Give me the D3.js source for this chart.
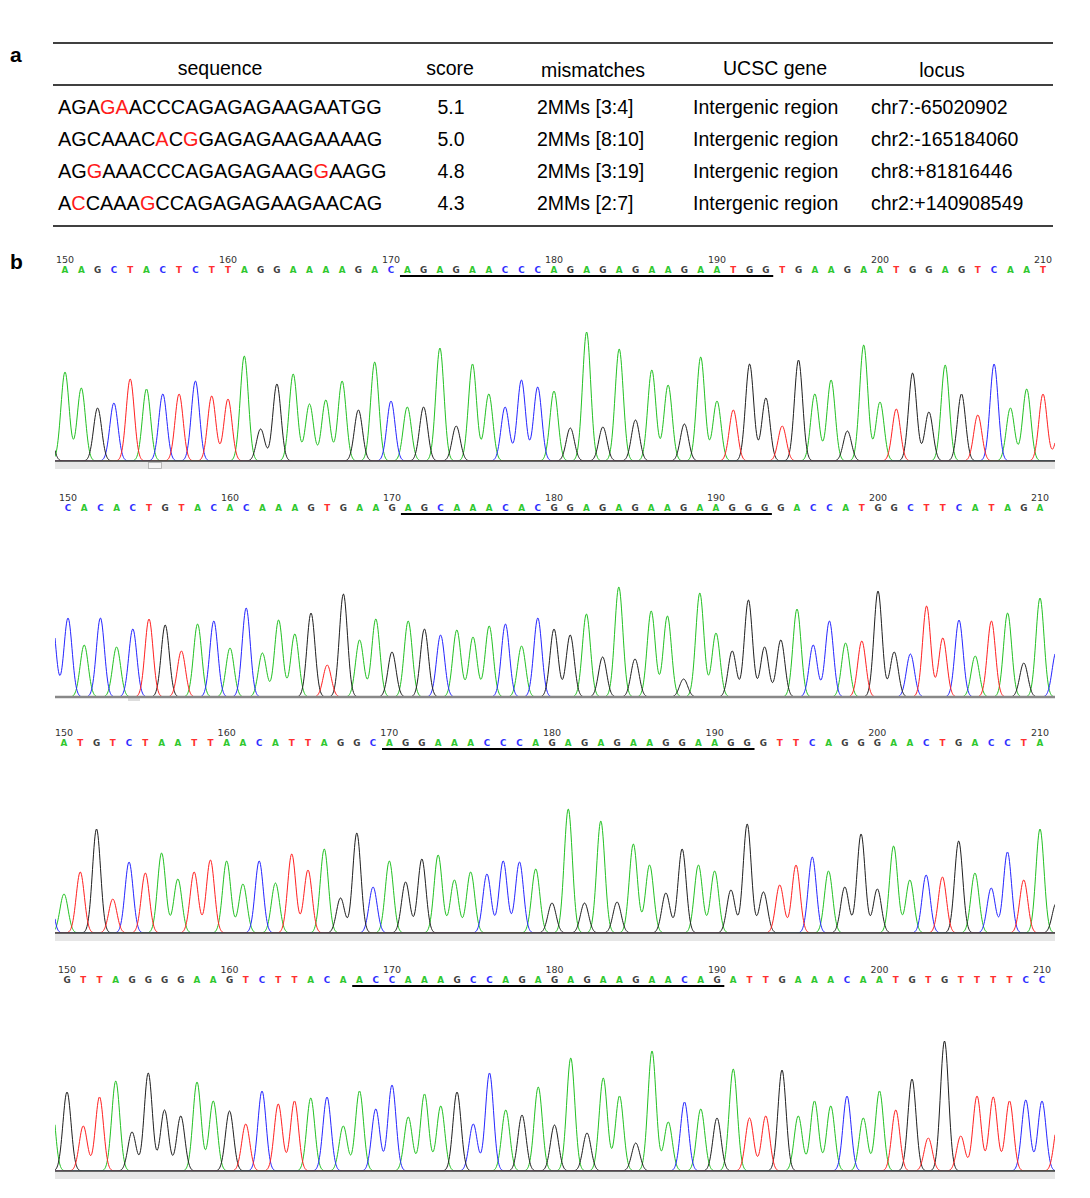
<!DOCTYPE html>
<html><head><meta charset="utf-8">
<script src="https://cdn.jsdelivr.net/npm/d3@7"></script>
<style>body{margin:0;background:#fff}svg{display:block}</style>
</head><body>
<svg id="c" width="1090" height="1198"></svg>
<script>
// ---------- table data ----------
const headers = ["sequence","score","mismatches","UCSC gene","locus"];
const sequences = ["AGAGAACCCAGAGAGAAGAATGG","AGCAAACACGGAGAGAAGAAAAG","AGGAAACCCAGAGAGAAGGAAGG","ACCAAAGCCAGAGAGAAGAACAG"];
const mismatchPos = [[4,5],[8,10],[3,19],[2,7]];
const scores = ["5.1","5.0","4.8","4.3"];
const mismatches = ["2MMs [3:4]","2MMs [8:10]","2MMs [3:19]","2MMs [2:7]"];
const genes = ["Intergenic region","Intergenic region","Intergenic region","Intergenic region"];
const loci = ["chr7:-65020902","chr2:-165184060","chr8:+81816446","chr2:+140908549"];

// ---------- chromatogram data ----------
const tickLabels = [150,160,170,180,190,200,210];
const seq1 = "AAGCTACTCTTAGGAAAAGACAGAGAACCCAGAGAGAAGAATGGTGAAGAATGGAGTCAAT";
const seq2 = "CACACTGTACACAAAGTGAAGAGCAAACACGGAGAGAAGAAGGGGACCATGGCTTCATAGA";
const seq3 = "ATGTCTAATTAACATTAGGCAGGAAACCCAGAGAGAAGGAAGGGTTCAGGGAACTGACCTA";
const seq4 = "GTTAGGGGAAGTCTTACAACCAAAGCCAGAGAGAAGAACAGATTGAAACAATGTGTTTTCC";
const heights1 = [89,73,53,58,82,72,67,67,80,65,62,105,32,77,87,57,61,80,51,99,60,54,54,113,35,97,67,54,81,74,70,33,129,34,112,41,91,76,37,104,60,51,97,63,35,101,67,81,30,116,59,52,88,49,96,67,46,97,53,72,67];
const heights2 = [79,52,79,50,68,78,72,46,73,76,49,89,44,77,63,84,32,103,57,78,45,76,68,62,67,60,71,73,51,79,68,62,83,40,110,38,86,81,18,104,64,46,97,50,57,88,52,76,54,56,106,45,43,91,59,77,41,76,84,34,99];
const heights3 = [39,61,104,34,71,60,80,54,61,73,72,49,72,50,79,63,84,35,100,46,72,51,74,78,53,61,59,72,71,64,30,124,30,112,31,89,68,40,84,68,62,43,109,41,48,68,76,62,46,99,44,87,53,58,56,92,60,45,81,53,104];
const heights4 = [79,45,74,90,39,98,61,55,89,70,60,47,80,67,70,73,74,45,80,62,86,54,77,65,79,47,98,61,56,84,46,113,38,93,75,28,120,49,69,62,53,102,53,55,101,55,70,65,75,53,80,61,92,33,130,35,75,74,70,71,70];
// flanking (clipped) peaks just outside 150..210
const flankBefore = [["G",35],["C",80],["C",70],["A",80]];
const flankAfter = [["T",30],["C",45],["G",30],["T",50]];
const targets = [[171,193],[171,193],[170,192],[168,190]];

const panels = [
  {seq:seq1, h:heights1, x0:65, x1:1043, top:259, base:461, style:"dark"},
  {seq:seq2, h:heights2, x0:68, x1:1040, top:497, base:697, style:"gray"},
  {seq:seq3, h:heights3, x0:64, x1:1040, top:732, base:933, style:"dark"},
  {seq:seq4, h:heights4, x0:67, x1:1042, top:969, base:1171, style:"dark"}
];

const baseColor = {A:"#2fc82f", C:"#3030ff", G:"#404040", T:"#ff3030"};
const traceColor = {A:"#22c022", C:"#2424ff", G:"#1e1e1e", T:"#ff2020"};

const svg = d3.select("#c");
const FONT = "'Liberation Sans', Arial, sans-serif";

// ---------- panel labels ----------
svg.append("text").attr("x",10).attr("y",62).text("a")
  .attr("font-family",FONT).attr("font-weight","bold").attr("font-size",21);
svg.append("text").attr("x",10).attr("y",269).text("b")
  .attr("font-family",FONT).attr("font-weight","bold").attr("font-size",21);

// ---------- table ----------
const T = svg.append("g");
[43,85,226].forEach(y=>T.append("line").attr("x1",53).attr("x2",1053).attr("y1",y).attr("y2",y)
  .attr("stroke","#000").attr("stroke-width",1.6));
const headX = [220,450,593,775,942];
const headY = [75,75,77,75,77];
headers.forEach((h,i)=>T.append("text").attr("x",headX[i]).attr("y",headY[i]).attr("text-anchor","middle")
  .attr("font-family",FONT).attr("font-size",19.5).text(h));
const rowY = d3.scaleBand().domain(d3.range(sequences.length)).range([91,219]);
sequences.forEach((s,i)=>{
  const y = rowY(i)+rowY.bandwidth()/2+7;
  const t = T.append("text").attr("x",58).attr("y",y).attr("font-family",FONT).attr("font-size",19.9);
  s.split("").forEach((ch,j)=>{
    t.append("tspan").text(ch).attr("fill", mismatchPos[i].includes(j+1) ? "#ff1a1a" : "#000");
  });
  T.append("text").attr("x",451).attr("y",y).attr("text-anchor","middle").attr("font-family",FONT).attr("font-size",19.5).text(scores[i]);
  T.append("text").attr("x",537).attr("y",y).attr("font-family",FONT).attr("font-size",19.5).text(mismatches[i]);
  T.append("text").attr("x",693).attr("y",y).attr("font-family",FONT).attr("font-size",19.5).text(genes[i]);
  T.append("text").attr("x",871).attr("y",y).attr("font-family",FONT).attr("font-size",19.5).text(loci[i]);
});

// ---------- chromatograms ----------
const SIG = 0.25;
const defs = svg.append("defs");
panels.forEach((p,pi)=>{
  const g = svg.append("g");
  const x = d3.scaleLinear().domain([150,210]).range([p.x0,p.x1]);
  const y = d3.scaleLinear().domain([0,130]).range([p.base,p.base-130]);
  const left = 55, right = 1055;
  defs.append("clipPath").attr("id","clip"+pi).append("rect")
    .attr("x",left).attr("y",p.base-140).attr("width",right-left).attr("height",139.5);

  // position ticks
  g.selectAll(null).data(tickLabels).join("text")
    .attr("x",d=>x(d)).attr("y",p.top+3.5).attr("text-anchor","middle")
    .attr("font-family","'DejaVu Sans', Verdana, sans-serif").attr("font-size",9.5).attr("fill","#333")
    .text(d=>d);
  // base calls
  const bases = p.seq.split("").map((b,i)=>({b, pos:150+i, h:p.h[i]}));
  g.selectAll(null).data(bases).join("text")
    .attr("x",d=>x(d.pos)).attr("y",p.top+13.5).attr("text-anchor","middle")
    .attr("font-family","'DejaVu Sans', Verdana, sans-serif").attr("font-size",8.8).attr("font-weight","bold")
    .attr("fill",d=>baseColor[d.b])
    .text(d=>d.b);
  // target underline
  const tg = targets[pi];
  g.append("line").attr("x1",x(tg[0]-0.45)).attr("x2",x(tg[1]+0.45))
    .attr("y1",p.top+17).attr("y2",p.top+17).attr("stroke","#000").attr("stroke-width",2.2);

  // traces
  const allPeaks = bases.concat([
    {b:flankBefore[pi][0], pos:149, h:flankBefore[pi][1]},
    {b:flankAfter[pi][0], pos:211, h:flankAfter[pi][1]}
  ]);
  const samples = d3.range(left, right+0.01, 0.5).map(px=>x.invert(px));
  const tr = g.append("g").attr("clip-path",`url(#clip${pi})`);
  ["A","C","G","T"].forEach(ch=>{
    const pk = allPeaks.filter(d=>d.b===ch);
    const vals = samples.map(s=>({s, v:d3.sum(pk, d=>d.h*Math.exp(-((s-d.pos)**2)/(2*SIG*SIG)))}));
    tr.append("path").datum(vals)
      .attr("d", d3.line().x(d=>x(d.s)).y(d=>y(d.v)))
      .attr("fill","none").attr("stroke",traceColor[ch]).attr("stroke-width",1);
  });

  // baseline styles (drawn over traces)
  if(p.style==="dark"){
    g.append("rect").attr("x",left).attr("y",p.base+1).attr("width",right-left).attr("height",7).attr("fill","#e6e6e6");
    if(pi===0) g.append("rect").attr("x",148.5).attr("y",p.base+1.5).attr("width",13).attr("height",6)
      .attr("fill","#f4f4f4").attr("stroke","#aaa").attr("stroke-width",0.8);
    g.append("line").attr("x1",left).attr("x2",right).attr("y1",p.base).attr("y2",p.base)
      .attr("stroke","#333").attr("stroke-width",1.6);
  } else {
    g.append("rect").attr("x",128).attr("y",p.base+1).attr("width",12).attr("height",3).attr("fill","#ddd");
    g.append("line").attr("x1",left).attr("x2",right).attr("y1",p.base).attr("y2",p.base)
      .attr("stroke","#888").attr("stroke-width",2.5);
  }
});
</script>
</body></html>
